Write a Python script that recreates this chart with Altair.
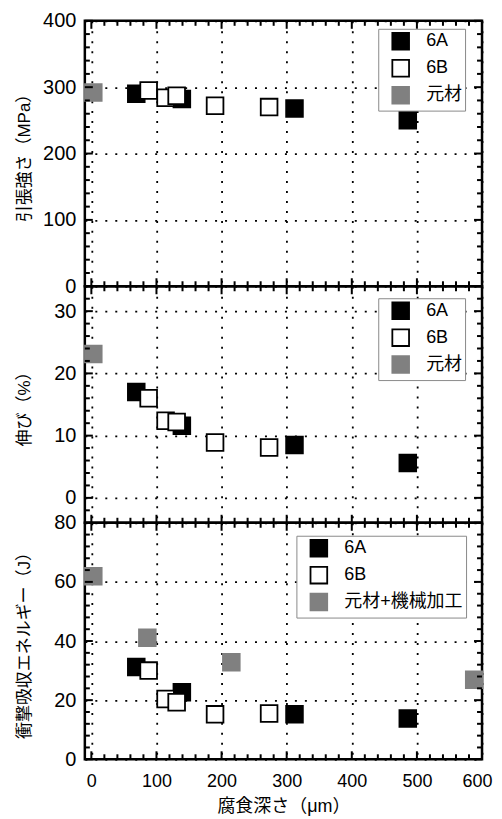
import altair as alt
import pandas as pd

# ---------------- data ----------------
names_top = ["6A", "6B", "元材"]
names_impact = ["6A", "6B", "元材+機械加工"]

depth_6A = [69, 139, 312, 486]
depth_6B = [88, 114, 131, 190, 273]
depth_base = [3]
depth_base_impact = [3, 86, 215, 588]

tensile_6A = [290, 282, 268, 250]
tensile_6B = [295, 284, 287, 272, 270]
tensile_base = [292]

elong_6A = [17.0, 11.6, 8.5, 5.6]
elong_6B = [16.0, 12.4, 12.2, 8.9, 8.1]
elong_base = [23.1]

impact_6A = [31.2, 22.7, 15.2, 13.8]
impact_6B = [30.0, 20.4, 19.3, 15.2, 15.5]
impact_base = [61.9, 41.1, 32.8, 26.9]

x_major = [0, 100, 200, 300, 400, 500, 600]
y1_major = [0, 100, 200, 300, 400]
y2_major = [0, 10, 20, 30]
y3_major = [0, 20, 40, 60, 80]

x_title = "腐食深さ（μm）"
y1_title = "引張強さ（MPa）"
y2_title = "伸び（%）"
y3_title = "衝撃吸収エネルギー（J）"

# ---------------- layout ----------------
W = 398
H1, H2, H3 = 266, 237, 237
FONT = "Liberation Sans, Noto Sans CJK JP"
GRAY = "#808080"

x_minor = [v for v in range(20, 600, 20) if v % 100 != 0]
y1_minor = [v for v in range(20, 400, 20) if v % 100 != 0]
y2_minor = [v for v in range(-2, 34, 2) if v % 10 != 0]
y3_minor = [v for v in range(4, 80, 4) if v % 20 != 0]


def make_df(groups):
    rows = []
    for xs, ys, n in groups:
        for x, y in zip(xs, ys):
            rows.append({"depth": x, "value": y, "series": n})
    return pd.DataFrame(rows)


def panel(df, names, ydom, ymajor, yminor, ytitle, H, lx, ly, show_x):
    xscale = alt.Scale(domain=[-10, 600], nice=False, zero=False)
    yscale = alt.Scale(domain=ydom, nice=False, zero=False)
    fill_scale = alt.Scale(domain=names, range=["black", "white", GRAY])
    stroke_scale = alt.Scale(domain=names, range=["black", "black", GRAY])
    legend = alt.Legend(
        title=None, orient="none", legendX=lx, legendY=ly,
        strokeColor="#8a8a8a", fillColor="white", padding=3,
        symbolType="square", symbolSize=280, symbolStrokeWidth=1.8,
        symbolOffset=10, labelOffset=16, rowPadding=2,
        labelFont=FONT, labelFontSize=18, labelColor="black",
    )
    if show_x:
        xaxis = alt.Axis(values=x_major, title=x_title, grid=True, ticks=False,
                         tickSize=0, domain=False, labelPadding=13, titlePadding=7,
                         labelFontSize=18, labelFlush=3, labelFlushOffset=10)
    else:
        xaxis = alt.Axis(values=x_major, labels=False, title=None, grid=True,
                         ticks=False, tickSize=0, domain=False)
    yaxis = alt.Axis(values=ymajor, title=ytitle, grid=True, ticks=False, tickSize=0,
                     domain=False, labelPadding=9, labelFontSize=20,
                     titleX=-60, titleY=H / 2,
                     titleAlign="center", titleBaseline="middle", titleAngle=270,
                     labelFlush=False)

    points = alt.Chart(df).mark_square(size=280, strokeWidth=1.8, opacity=1).encode(
        x=alt.X("depth:Q", scale=xscale, axis=xaxis),
        y=alt.Y("value:Q", scale=yscale, axis=yaxis),
        fill=alt.Fill("series:N", scale=fill_scale, legend=legend),
        stroke=alt.Stroke("series:N", scale=stroke_scale, legend=legend),
    )

    layers = [points]
    for vals, L in ((ymajor, 8), (yminor, 5)):
        d = pd.DataFrame({"value": vals})
        base = alt.Chart(d).mark_rule(color="black", strokeWidth=2)
        layers.append(base.encode(y=alt.Y("value:Q", scale=yscale, axis=yaxis),
                                  x=alt.value(0), x2=alt.value(L)))
        layers.append(base.encode(y=alt.Y("value:Q", scale=yscale, axis=yaxis),
                                  x=alt.value(W - L), x2=alt.value(W)))
    for vals, L in ((x_major, 8), (x_minor, 5)):
        d = pd.DataFrame({"depth": vals})
        base = alt.Chart(d).mark_rule(color="black", strokeWidth=2)
        layers.append(base.encode(x=alt.X("depth:Q", scale=xscale, axis=xaxis),
                                  y=alt.value(H), y2=alt.value(H - L)))
        layers.append(base.encode(x=alt.X("depth:Q", scale=xscale, axis=xaxis),
                                  y=alt.value(0), y2=alt.value(L)))
    return alt.layer(*layers).properties(width=W, height=H)


df1 = make_df([(depth_6A, tensile_6A, "6A"), (depth_6B, tensile_6B, "6B"),
               (depth_base, tensile_base, "元材")])
df2 = make_df([(depth_6A, elong_6A, "6A"), (depth_6B, elong_6B, "6B"),
               (depth_base, elong_base, "元材")])
df3 = make_df([(depth_6A, impact_6A, "6A"), (depth_6B, impact_6B, "6B"),
               (depth_base_impact, impact_base, "元材+機械加工")])

p1 = panel(df1, names_top, [0, 400], y1_major, y1_minor, y1_title, H1, 294, 8, False)
p2 = panel(df2, names_top, [-4, 34], y2_major, y2_minor, y2_title, H2, 294, 12, False)
p3 = panel(df3, names_impact, [0, 80], y3_major, y3_minor, y3_title, H3, 212, 13, True)

chart = alt.vconcat(p1, p2, p3, spacing=0, bounds="flush").resolve_scale(
    x="independent", y="independent", fill="independent", stroke="independent"
).resolve_legend(fill="independent", stroke="independent").properties(
    padding={"left": 6, "top": 0, "right": 0, "bottom": 0}
).configure_view(
    stroke="black", strokeWidth=2.5
).configure_axis(
    labelFont=FONT, labelColor="black",
    titleFont=FONT, titleFontSize=17, titleFontWeight="normal", titleColor="black",
    gridColor="black", gridDash=[2, 8], gridWidth=1.8, gridOpacity=1,
).configure_axisX(titleFontSize=18)

chart.save("out.html", embed_options={"renderer": "svg", "actions": False})
